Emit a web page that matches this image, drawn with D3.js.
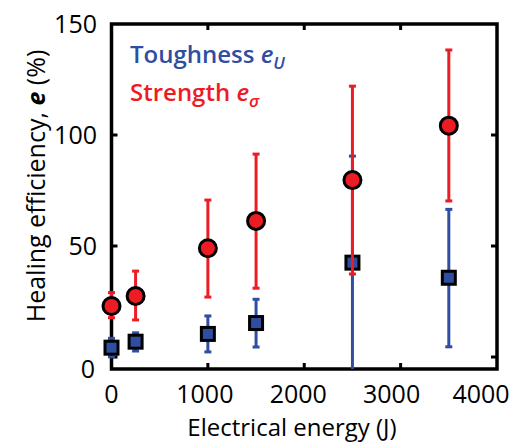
<!DOCTYPE html>
<html>
<head>
<meta charset="utf-8">
<script src="https://cdn.jsdelivr.net/npm/d3@7"></script>
<style>
  body { margin: 0; background: #fff; }
  text { font-family: "Open Sans", sans-serif; }
</style>
</head>
<body>
<div id="chart"></div>
<script>
// data (energy in J, efficiency in %)
var energy = [0, 250, 1000, 1500, 2500, 3500];
var strengthMean = [23, 27.5, 49, 61.3, 79.7, 104.2];
var strengthLow = [17.7, 16.7, 27, 31, 37.4, 70.3];
var strengthHigh = [29, 38.7, 70.7, 91.4, 122, 138.3];
var toughMean = [4.2, 6.9, 10.4, 15.3, 42.5, 35.7];
var toughLow = [0.1, 2.7, 2.3, 4.5, -10, 4.6];
var toughHigh = [8.4, 10.9, 18.5, 26, 90.5, 66.5];
var xTicks = [0, 1000, 2000, 3000, 4000];
var yTicks = [0, 50, 100, 150];

var width = 516, height = 443;
var red = '#ed1c24', blue = '#2f4ea1';

var svg = d3.select('#chart').append('svg')
    .attr('width', width)
    .attr('height', height);

var x = d3.scaleLinear().domain([0, 4000]).range([111.5, 497]);
var y = d3.scaleLinear().domain([-5.4, 150]).range([369, 24]);
var yMin = y.domain()[0];

// frame
svg.append('rect')
    .attr('x', x(0)).attr('y', y(150))
    .attr('width', x(4000) - x(0)).attr('height', y(yMin) - y(150))
    .attr('fill', 'none').attr('stroke', '#000').attr('stroke-width', 3.5);

// inward ticks on all four sides
var tl = 6;
var inner = xTicks.slice(1, -1);
svg.selectAll('.xtb').data(inner).enter().append('line')
    .attr('x1', d => x(d)).attr('x2', d => x(d))
    .attr('y1', y(yMin)).attr('y2', y(yMin) - tl)
    .attr('stroke', '#000').attr('stroke-width', 3);
svg.selectAll('.xtt').data(inner).enter().append('line')
    .attr('x1', d => x(d)).attr('x2', d => x(d))
    .attr('y1', y(150)).attr('y2', y(150) + tl)
    .attr('stroke', '#000').attr('stroke-width', 3);
svg.selectAll('.ytl').data([0, 50, 100]).enter().append('line')
    .attr('x1', x(0)).attr('x2', x(0) + tl)
    .attr('y1', d => y(d)).attr('y2', d => y(d))
    .attr('stroke', '#000').attr('stroke-width', 3);
svg.selectAll('.ytr').data([0, 50, 100]).enter().append('line')
    .attr('x1', x(4000)).attr('x2', x(4000) - tl)
    .attr('y1', d => y(d)).attr('y2', d => y(d))
    .attr('stroke', '#000').attr('stroke-width', 3);

// tick labels
svg.selectAll('.xl').data(xTicks).enter().append('text')
    .attr('x', d => x(d))
    .attr('dx', d => d === 4000 ? -16 : -d / 1000 * 3)
    .attr('y', 403)
    .attr('text-anchor', 'middle')
    .attr('font-size', 25)
    .text(d => d);
svg.selectAll('.yl').data(yTicks).enter().append('text')
    .attr('x', d => d === 0 ? 95 : 97)
    .attr('y', d => d === 0 ? y(yMin) : y(d))
    .attr('dy', '0.36em')
    .attr('text-anchor', 'end')
    .attr('font-size', 25)
    .text(d => d);

// axis titles
svg.append('text')
    .attr('x', 292).attr('y', 436)
    .attr('text-anchor', 'middle')
    .attr('font-size', 24)
    .text('Electrical energy (J)');

var yt = svg.append('text')
    .attr('transform', 'translate(45,186) rotate(-90)')
    .attr('text-anchor', 'middle')
    .attr('font-size', 25);
yt.append('tspan').text('Healing efficiency, ');
yt.append('tspan').attr('font-weight', 700).attr('font-style', 'italic').text('e');
yt.append('tspan').text(' (%)');

// error bars + markers
function bars(mean, low, high, color) {
    var g = svg.append('g');
    var idx = d3.range(energy.length);
    g.selectAll('line.v').data(idx).enter().append('line')
        .attr('x1', i => x(energy[i])).attr('x2', i => x(energy[i]))
        .attr('y1', i => y(Math.max(low[i], yMin))).attr('y2', i => y(high[i]))
        .attr('stroke', color).attr('stroke-width', 3);
    var caps = [];
    idx.forEach(i => {
        caps.push([i, high[i]]);
        if (low[i] > yMin) caps.push([i, low[i]]);
    });
    g.selectAll('line.c').data(caps).enter().append('line')
        .attr('x1', d => x(energy[d[0]]) - 3.5).attr('x2', d => x(energy[d[0]]) + 3.5)
        .attr('y1', d => y(d[1])).attr('y2', d => y(d[1]))
        .attr('stroke', color).attr('stroke-width', 3);
}

bars(toughMean, toughLow, toughHigh, blue);
svg.selectAll('rect.sq').data(energy).enter().append('rect')
    .attr('x', (d, i) => x(d) - 6.5)
    .attr('y', (d, i) => y(toughMean[i]) - 6.5)
    .attr('width', 13).attr('height', 13)
    .attr('fill', blue).attr('stroke', '#000').attr('stroke-width', 3);

bars(strengthMean, strengthLow, strengthHigh, red);
svg.selectAll('circle.pt').data(energy).enter().append('circle')
    .attr('cx', d => x(d))
    .attr('cy', (d, i) => y(strengthMean[i]))
    .attr('r', 8.5)
    .attr('fill', red).attr('stroke', '#000').attr('stroke-width', 3);

// legend
var l1 = svg.append('text').attr('x', 130).attr('y', 63)
    .attr('fill', blue).attr('font-size', 24).attr('font-weight', 600);
l1.append('tspan').text('Toughness ');
l1.append('tspan').attr('font-style', 'italic').text('e');
l1.append('tspan').attr('font-style', 'italic').attr('font-size', 17).attr('dy', 6).text('U');

var l2 = svg.append('text').attr('x', 130).attr('y', 101)
    .attr('fill', red).attr('font-size', 24).attr('font-weight', 600);
l2.append('tspan').text('Strength ');
l2.append('tspan').attr('font-style', 'italic').text('e');
l2.append('tspan').attr('font-style', 'italic').attr('font-size', 17).attr('dy', 6).text('σ');
</script>
</body>
</html>
